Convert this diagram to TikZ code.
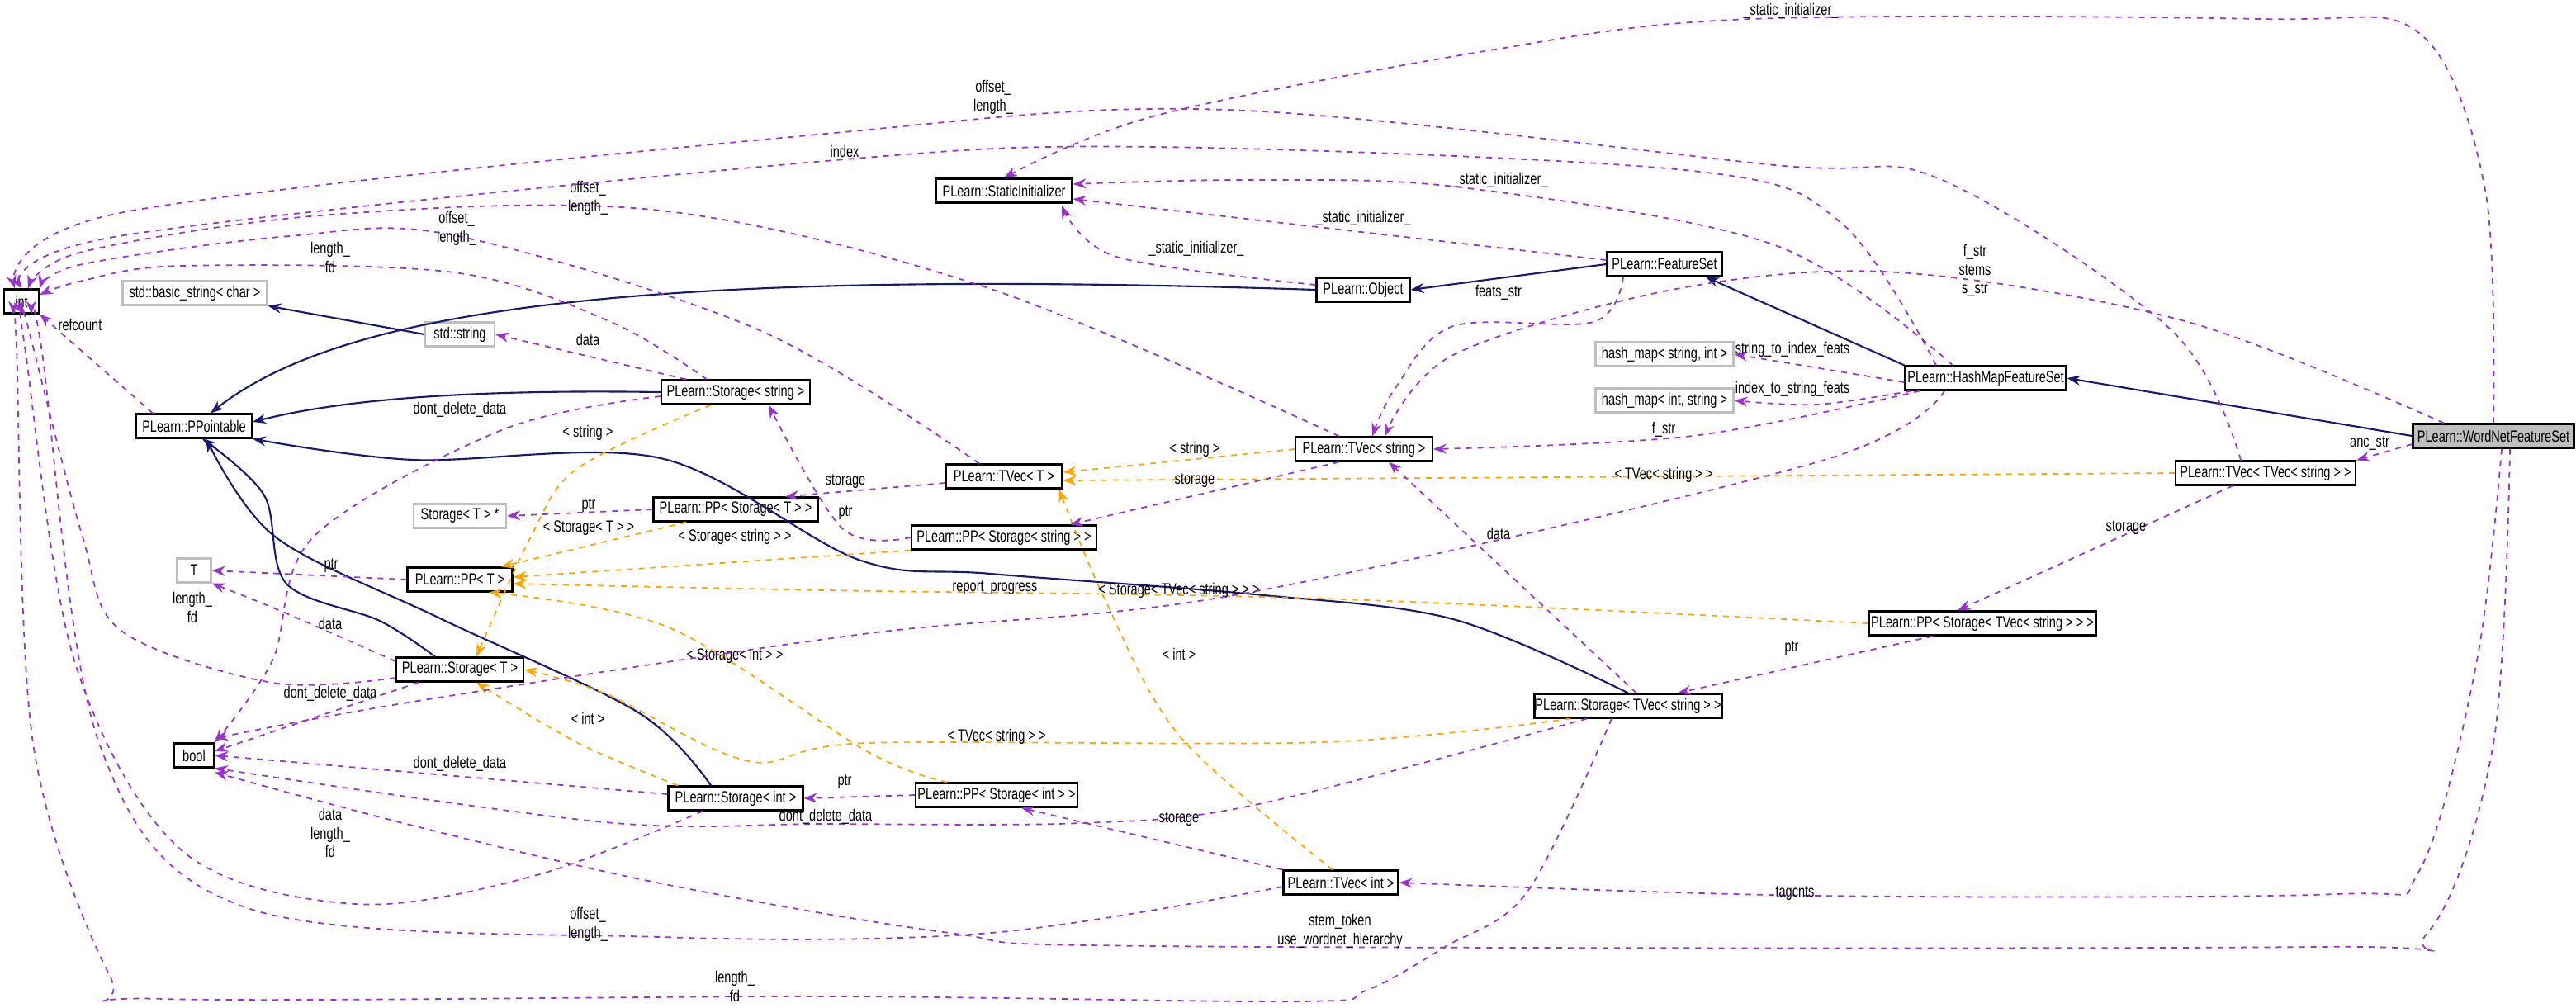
\documentclass[tikz,border=0pt]{standalone}
\usepackage{fontspec}
\setmainfont{Liberation Sans}[FakeStretch=0.74]
\usetikzlibrary{arrows.meta}
\definecolor{pur}{HTML}{9A32CD}
\definecolor{org}{HTML}{FFA500}
\definecolor{nav}{HTML}{191970}
\definecolor{gb}{HTML}{BFBFBF}
\begin{document}
\begin{tikzpicture}[
  font=\fontsize{5.6}{6.4}\selectfont,
  cls/.style={draw=black, line width=0.6pt, minimum height=0.29cm, inner sep=0pt, fill=white},
  ext/.style={cls, draw=gb},
  lab/.style={align=center, inner sep=0pt},
  inh/.style={draw=nav, line width=0.6pt, -{Stealth[length=0.16cm,width=0.12cm]}},
  mem/.style={draw=pur, line width=0.5pt, dash pattern=on 2pt off 2pt, -{Stealth[length=0.16cm,width=0.12cm]}},
  tpl/.style={draw=org, line width=0.5pt, dash pattern=on 2pt off 2pt, -{Stealth[length=0.16cm,width=0.12cm]}},
  sm/.style={smooth, tension=0.55}
]
\useasboundingbox (0,0) rectangle (31.2,-12.2);
% nodes
\node[cls, minimum width=0.42cm] (int) at (0.26,-3.65) {int};
\node[ext, minimum width=1.75cm] (bstr) at (2.36,-3.55) {std::basic\_string< char >};
\node[ext, minimum width=0.84cm] (sstr) at (5.57,-4.05) {std::string};
\node[cls, minimum width=1.40cm] (ppt) at (2.35,-5.16) {PLearn::PPointable};
\node[cls, minimum width=1.80cm] (stS) at (8.91,-4.75) {PLearn::Storage< string >};
\node[ext, minimum width=1.12cm] (stTp) at (5.57,-6.25) {Storage< T > *};
\node[cls, minimum width=1.99cm] (ppST) at (8.91,-6.17) {PLearn::PP< Storage< T > >};
\node[ext, minimum width=0.41cm] (T) at (2.35,-6.91) {T};
\node[cls, minimum width=1.27cm] (ppT) at (5.57,-7.02) {PLearn::PP< T >};
\node[cls, minimum width=1.54cm] (stT) at (5.57,-8.11) {PLearn::Storage< T >};
\node[cls, minimum width=0.48cm] (bool) at (2.35,-9.15) {bool};
\node[cls, minimum width=1.63cm] (stI) at (8.91,-9.67) {PLearn::Storage< int >};
\node[cls, minimum width=1.65cm] (si) at (12.16,-2.31) {PLearn::StaticInitializer};
\node[cls, minimum width=1.39cm] (fs) at (20.16,-3.20) {PLearn::FeatureSet};
\node[cls, minimum width=1.13cm] (obj) at (16.51,-3.51) {PLearn::Object};
\node[ext, minimum width=1.67cm] (hm1) at (20.16,-4.29) {hash\_map< string, int >};
\node[ext, minimum width=1.67cm] (hm2) at (20.16,-4.85) {hash\_map< int, string >};
\node[cls, minimum width=1.66cm] (tvS) at (16.52,-5.44) {PLearn::TVec< string >};
\node[cls, minimum width=1.41cm] (tvT) at (12.16,-5.77) {PLearn::TVec< T >};
\node[cls, minimum width=2.24cm] (ppSS) at (12.16,-6.51) {PLearn::PP< Storage< string > >};
\node[cls, minimum width=1.95cm] (hmfs) at (24.05,-4.58) {PLearn::HashMapFeatureSet};
\node[cls, minimum width=1.95cm, fill=gb] (wn) at (30.20,-5.28) {PLearn::WordNetFeatureSet};
\node[cls, minimum width=2.18cm] (tvTV) at (27.44,-5.73) {PLearn::TVec< TVec< string > >};
\node[cls, minimum width=2.75cm] (ppSTV) at (24.01,-7.55) {PLearn::PP< Storage< TVec< string > > >};
\node[cls, minimum width=2.27cm] (stTV) at (19.72,-8.55) {PLearn::Storage< TVec< string > >};
\node[cls, minimum width=1.96cm] (ppSI) at (12.07,-9.63) {PLearn::PP< Storage< int > >};
\node[cls, minimum width=1.39cm] (tvI) at (16.24,-10.69) {PLearn::TVec< int >};

% inheritance
\draw[inh] (obj.west) .. controls (8,-3.25) and (4.2,-3.7) .. ([xshift=0.2cm]ppt.north);
\draw[inh] (sstr.west) -- (bstr.south east);
\draw[inh] (stS.west) .. controls (6,-4.72) and (4.3,-4.8) .. ([yshift=0.05cm]ppt.east);
\draw[inh] plot[sm] coordinates {(stTV.north) (17.6,-7.5) (15.2,-7.2) (12,-6.95) (10.4,-6.78) (8,-5.55) (5,-5.57) (ppt.south east)};
\draw[inh] plot[sm] coordinates {([xshift=-0.3cm]stT.north) (4.6,-7.52) (3.47,-7.07) (3.2,-6.0) ([xshift=0.1cm]ppt.south)};
\draw[inh] plot[sm] coordinates {([xshift=-0.3cm]stI.north) (7.73,-8.63) (5.33,-7.49) (3.33,-6.5) ([xshift=0.15cm]ppt.south)};
\draw[inh] (fs.west) -- (obj.east);
\draw[inh] (hmfs.north west) -- ([xshift=0.5cm]fs.south);
\draw[inh] (wn.west) -- (hmfs.east);

% templates
\draw[tpl] (tvS.west) -- ([yshift=0.05cm]tvT.east);
\node[lab] (l1) at (14.47,-5.44) {< string >};
\draw[tpl] (tvTV.west) -- ([yshift=-0.05cm]tvT.east);
\node[lab] (l2) at (20.15,-5.75) {< TVec< string > >};
\draw[tpl] plot[sm] coordinates {([xshift=-0.1cm]tvI.north) (14.3,-8.93) (13.4,-7.3) ([xshift=-0.05cm]tvT.south east)};
\node[lab] (l3) at (14.28,-7.92) {< int >};
\draw[tpl] plot[sm] coordinates {([xshift=-0.3cm]stS.south) (7.0,-5.67) (6.43,-6.5) ([xshift=0.2cm]stT.north)};
\node[lab] (l4) at (7.12,-5.24) {< string >};
\draw[tpl] plot[sm] coordinates {([xshift=-0.7cm]stI.north) (7.0,-9.0) ([xshift=0.2cm]stT.south)};
\node[lab] (l5) at (7.12,-8.70) {< int >};
\draw[tpl] plot[sm] coordinates {([xshift=-0.7cm]stTV.south) (16.0,-8.99) (10.5,-9.0) (9.07,-9.22) (7.33,-8.4) (stT.east)};
\node[lab] (l6) at (12.07,-8.92) {< TVec< string > >};
\draw[tpl] ([xshift=-0.6cm]ppST.south) -- ([xshift=0.5cm]ppT.north);
\node[lab] (l7) at (7.13,-6.40) {< Storage< T > >};
\draw[tpl] (ppSS.south west) -- ([yshift=0.03cm]ppT.east);
\node[lab] (l8) at (8.9,-6.50) {< Storage< string > >};
\draw[tpl] plot[sm] coordinates {([xshift=-0.6cm]ppSI.north) (10.5,-9.1) (8.1,-7.6) ([xshift=0.35cm]ppT.south)};
\node[lab] (l9) at (8.9,-7.94) {< Storage< int > >};
\draw[tpl] plot[sm] coordinates {(ppSTV.west) (16,-7.25) (10,-7.15) ([yshift=-0.05cm]ppT.east)};
\node[lab] (l10) at (14.28,-7.15) {< Storage< TVec< string > > >};

% members
\draw[mem] ([xshift=-0.5cm]ppt.north) -- (int.south east);
\node[lab] (m1) at (0.97,-3.93) {refcount};
\draw[mem] ([xshift=-0.6cm]stS.north) -- (sstr.east);
\node[lab] (m2) at (7.12,-4.11) {data};
\draw[mem] plot[sm] coordinates {([yshift=-0.05cm]stS.west) (6.1,-5.2) (3.8,-6.5) (3.3,-8.0) (bool.north east)};
\node[lab] (m3) at (5.57,-4.96) {dont\_delete\_data};
\draw[mem] plot[sm] coordinates {([xshift=-0.35cm]stS.north) (7.4,-3.9) (5.5,-3.3) (2.2,-3.22) (1.0,-3.4) ([yshift=0.08cm]int.east)};
\node[lab,align=center] (m4) at (4.0,-3.12) {length\_\\fd};
\draw[mem] plot[sm] coordinates {([xshift=-0.3cm]tvT.north) (9.2,-4.0) (5.5,-2.85) (3.5,-2.86) (1.0,-3.2) (int.north east)};
\node[lab] (m5) at (5.53,-2.77) {offset\_\\length\_};
\draw[mem] plot[sm] coordinates {([xshift=-0.3cm]tvS.north) (12,-3.5) (8,-2.55) (4,-2.6) (1.0,-3.05) ([xshift=0.08cm]int.north)};
\node[lab] (m6) at (7.12,-2.40) {offset\_\\length\_};
\draw[mem] ([yshift=-0.08cm]tvT.west) -- ([xshift=0.6cm]ppST.north);
\node[lab] (m7) at (10.24,-5.83) {storage};
\draw[mem] (ppST.west) -- (stTp.east);
\node[lab] (m8) at (7.13,-6.12) {ptr};
\draw[mem] plot[sm] coordinates {(ppSS.west) (10.2,-6.4) ([xshift=0.4cm]stS.south)};
\node[lab] (m9) at (10.24,-6.21) {ptr};
\draw[mem] ([xshift=-0.3cm]tvS.south) -- ([xshift=0.8cm]ppSS.north);
\node[lab] (m10) at (14.47,-5.82) {storage};
\draw[mem] (ppT.west) -- (T.east);
\node[lab] (m11) at (4.01,-6.85) {ptr};
\draw[mem] plot[sm] coordinates {([yshift=0.1cm]stT.west) (3.4,-7.4) (T.south east)};
\node[lab] (m12) at (4.0,-7.55) {data};
\draw[mem] plot[sm] coordinates {([yshift=-0.1cm]stT.west) (3.3,-8.27) (1.47,-7.64) (1.0,-6.5) (0.4,-4.2) ([xshift=0.05cm]int.south)};
\node[lab] (m13) at (2.33,-7.36) {length\_\\fd};
\draw[mem] ([xshift=-0.5cm]stT.south) -- ([yshift=0.05cm]bool.east);
\node[lab] (m14) at (4.0,-8.40) {dont\_delete\_data};
\draw[mem] ([yshift=0.05cm]stI.west) -- (bool.east);
\node[lab] (m15) at (5.57,-9.25) {dont\_delete\_data};
\draw[mem] plot[sm] coordinates {([xshift=-0.4cm]stI.south) (6.5,-10.6) (4.3,-10.95) (2.2,-10.3) (0.9,-8.0) (0.3,-4.2) (int.south)};
\node[lab] (m16) at (4.0,-10.09) {data\\length\_\\fd};
\draw[mem] plot[sm] coordinates {([xshift=-0.5cm]stTV.south) (15.2,-9.75) (13.1,-9.97) (10,-9.98) (7.33,-9.96) (bool.south east)};
\node[lab] (m17) at (10.0,-9.89) {dont\_delete\_data};
\draw[mem] plot[sm] coordinates {([xshift=-0.2cm]stTV.south) (18.5,-10.8) (17.5,-11.47) (16.54,-12.0) (15.7,-12.13) (10,-12.07) (2,-12.1) (1.33,-11.82) (0.4,-9) (0.2,-4.2) ([xshift=-0.1cm]int.south)};
\node[lab] (m18) at (8.9,-11.95) {length\_\\fd};
\draw[mem] ([xshift=0.1cm]stTV.north) -- ([xshift=0.3cm]tvS.south);
\node[lab] (m19) at (18.15,-6.46) {data};
\draw[mem] (ppSI.west) -- (stI.east);
\node[lab] (m20) at (10.23,-9.47) {ptr};
\draw[mem] (tvI.north west) -- ([xshift=0.3cm]ppSI.south);
\node[lab] (m21) at (14.28,-9.92) {storage};
\draw[mem] plot[sm] coordinates {([yshift=-0.05cm]tvI.west) (12,-11.3) (8,-11.35) (3,-11.0) (1.2,-9) (0.5,-4.2) ([xshift=0.12cm]int.south)};
\node[lab] (m22) at (7.12,-11.2) {offset\_\\length\_};
\draw[mem] ([xshift=-0.6cm]ppSTV.south) -- ([xshift=0.6cm]stTV.north);
\node[lab] (m23) at (21.7,-7.85) {ptr};
\draw[mem] ([xshift=-0.4cm]tvTV.south) -- ([xshift=-0.3cm]ppSTV.north);
\node[lab] (m24) at (25.75,-6.39) {storage};
\draw[mem] plot[sm] coordinates {([xshift=-0.3cm]tvTV.north) (26.3,-4.0) (23.5,-2.17) (21.5,-2.0) (14.86,-1.33) (10,-1.62) (1.5,-2.57) ([xshift=-0.08cm]int.north)};
\node[lab] (m25) at (12.03,-1.18) {offset\_\\length\_};
\draw[mem] plot[sm] coordinates {([xshift=-0.6cm]hmfs.north) (22.3,-2.7) (20.5,-2.07) (14,-1.78) (10,-1.95) (1.5,-2.85) (int.north)};
\node[lab] (m26) at (10.23,-1.83) {index};
\draw[mem] plot[sm] coordinates {([yshift=0.06cm]obj.west) (13.52,-3.11) (12.86,-2.49)};
\node[lab] (m27) at (14.49,-3.01) {\_static\_initializer\_};
\draw[mem] ([yshift=0.05cm]fs.west) -- ([yshift=-0.1cm]si.east);
\node[lab] (m28) at (16.51,-2.64) {\_static\_initializer\_};
\draw[mem] plot[sm] coordinates {([xshift=-0.4cm]hmfs.north) (21.5,-2.97) (17.7,-2.27) (15.13,-2.18) ([yshift=0.08cm]si.east)};
\node[lab] (m29) at (18.17,-2.18) {\_static\_initializer\_};
\draw[mem] plot[sm] coordinates {(wn.north) (30.1,-2.3) (29.3,-0.4) (27.4,-0.23) (21.2,-0.23) (18.1,-0.6) (14,-1.4) (si.north)};
\node[lab] (m30) at (21.69,-0.13) {\_static\_initializer\_};
\draw[mem] plot[sm] coordinates {([xshift=-0.5cm]fs.south) (19.3,-3.9) (17.6,-3.95) (16.9,-4.7) ([xshift=0.1cm]tvS.north)};
\node[lab] (m31) at (18.15,-3.54) {feats\_str};
\draw[mem] plot[sm] coordinates {([xshift=-0.8cm]hmfs.south) (20.5,-5.28) (tvS.east)};
\node[lab] (m32) at (20.15,-5.20) {f\_str};
\draw[mem] ([yshift=-0.05cm]hmfs.west) -- (hm1.east);
\node[lab] (m33) at (21.71,-4.23) {string\_to\_index\_feats};
\draw[mem] plot[sm] coordinates {([xshift=-0.9cm]hmfs.south) (22.0,-4.9) (hm2.east)};
\node[lab] (m34) at (21.71,-4.71) {index\_to\_string\_feats};
\draw[mem] plot[sm] coordinates {([xshift=-0.5cm]hmfs.south) (22,-5.6) (15,-7.2) (10.45,-7.68) (5,-8.5) ([yshift=0.05cm]bool.north east)};
\node[lab] (m35) at (12.05,-7.12) {report\_progress};
\draw[mem] plot[sm] coordinates {([xshift=-0.6cm]wn.north) (26.5,-3.9) (23,-3.3) (20.3,-3.5) (17.6,-4.3) ([xshift=0.25cm]tvS.north)};
\node[lab] (m36) at (23.92,-3.28) {f\_str\\stems\\s\_str};
\draw[mem] ([yshift=-0.1cm]wn.west) -- (tvTV.north east);
\node[lab] (m37) at (28.7,-5.37) {anc\_str};
\draw[mem] plot[sm] coordinates {([xshift=0.1cm]wn.south) (30.0,-8) (29.3,-10.55) (28.3,-10.83) (22,-10.85) (tvI.east)};
\node[lab] (m38) at (21.74,-10.82) {tagcnts};
\draw[mem] plot[sm] coordinates {([xshift=0.2cm]wn.south) (30.2,-9) (29.4,-11.3) (28,-11.47) (14,-11.46) (11.5,-11.3) (8,-10.7) (5,-10.0) ([yshift=-0.05cm]bool.south east)};
\node[lab] (m39) at (16.23,-11.28) {stem\_token\\use\_wordnet\_hierarchy};
\end{tikzpicture}
\end{document}
